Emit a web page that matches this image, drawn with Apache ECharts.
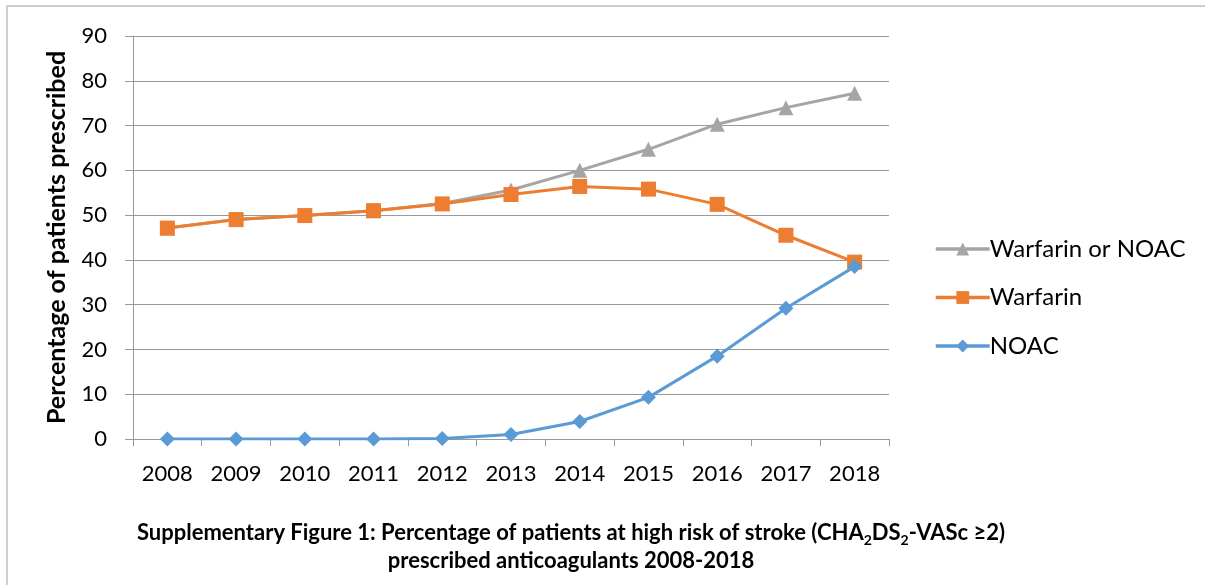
<!DOCTYPE html>
<html>
<head>
<meta charset="utf-8">
<script src="https://cdn.jsdelivr.net/npm/echarts@6/dist/echarts.min.js"></script>
<style>html,body{margin:0;padding:0;background:#fff}#c{width:1205px;height:585px}</style>
</head>
<body>
<div id="c"></div>
<script>
const years = ['2008','2009','2010','2011','2012','2013','2014','2015','2016','2017','2018'];
const combined = [47.1, 49.0, 49.9, 51.0, 52.6, 55.6, 60.0, 64.7, 70.3, 74.0, 77.2];
const warfarin = [47.1, 49.0, 49.9, 51.0, 52.5, 54.6, 56.4, 55.8, 52.4, 45.5, 39.5];
const noac = [0, 0, 0, 0, 0.1, 1.0, 3.9, 9.3, 18.5, 29.2, 38.5];
const yTicks = [0, 10, 20, 30, 40, 50, 60, 70, 80, 90];

const FONT = 'Lato, "Open Sans", sans-serif';
const chart = echarts.init(document.getElementById('c'), null, {renderer: 'canvas'});
const mk = (name, data, color, symbol, size) => ({
  name, type: 'line', data, symbol, symbolSize: size,
  lineStyle: {color, width: 3}, itemStyle: {color},
  emphasis: {disabled: true}
});
chart.setOption({
  animation: false,
  backgroundColor: '#fff',
  graphic: [{
    type: 'rect', shape: {x: 7, y: 6, width: 1300, height: 700},
    style: {fill: 'none', stroke: '#bfbfbf', lineWidth: 1.5}, silent: true
  }],
  title: {
    text: '{b|Supplementary Figure 1: Percentage of patients at high risk of stroke (CHA}{s|2}{b|DS}{s|2}{b|-VASc ≥2)}\n{b|prescribed anticoagulants 2008-2018}',
    left: 566, top: 514, textAlign: 'center',
    textStyle: {
      rich: {
        b: {fontFamily: FONT, fontWeight: 'bold', fontSize: 22, color: '#000', lineHeight: 28},
        s: {fontFamily: FONT, fontWeight: 'bold', fontSize: 14, color: '#000', verticalAlign: 'bottom', padding: [10,0,0,0], lineHeight: 28}
      }
    }
  },
  legend: {
    orient: 'vertical', left: 929, top: 232, itemGap: 24.5,
    itemWidth: 54, itemHeight: 16,
    lineStyle: {width: 3.5},
    textStyle: {fontFamily: FONT, fontSize: 24, lineHeight: 24, color: '#000', padding: [0,0,0,-5]},
    data: ['Warfarin or NOAC', 'Warfarin', 'NOAC']
  },
  grid: {left: 133, right: 316, top: 36, bottom: 146},
  xAxis: {
    type: 'category', data: years, boundaryGap: true,
    axisLine: {lineStyle: {color: '#9a9a9a', width: 1}},
    axisTick: {show: true, length: 7, lineStyle: {color: '#9a9a9a'}},
    axisLabel: {fontFamily: FONT, fontSize: 22, color: '#000', margin: 24}
  },
  yAxis: {
    type: 'value', min: 0, max: 90, interval: 10,
    name: 'Percentage of patients prescribed', nameLocation: 'middle', nameGap: 64,
    nameTextStyle: {fontFamily: FONT, fontWeight: 'bold', fontSize: 25, color: '#000'},
    axisLine: {show: true, lineStyle: {color: '#9a9a9a', width: 1}},
    axisTick: {show: true, length: 8, lineStyle: {color: '#9a9a9a'}},
    splitLine: {lineStyle: {color: '#9a9a9a', width: 1}},
    axisLabel: {fontFamily: FONT, fontSize: 22, color: '#000', margin: 26,
      formatter: v => yTicks.includes(v) ? String(v) : ''}
  },
  series: [
    mk('Warfarin or NOAC', combined, '#A5A5A5', 'triangle', 15),
    mk('Warfarin', warfarin, '#ED7D31', 'rect', 15),
    mk('NOAC', noac, '#5B9BD5', 'diamond', 15)
  ]
});
</script>
</body>
</html>
